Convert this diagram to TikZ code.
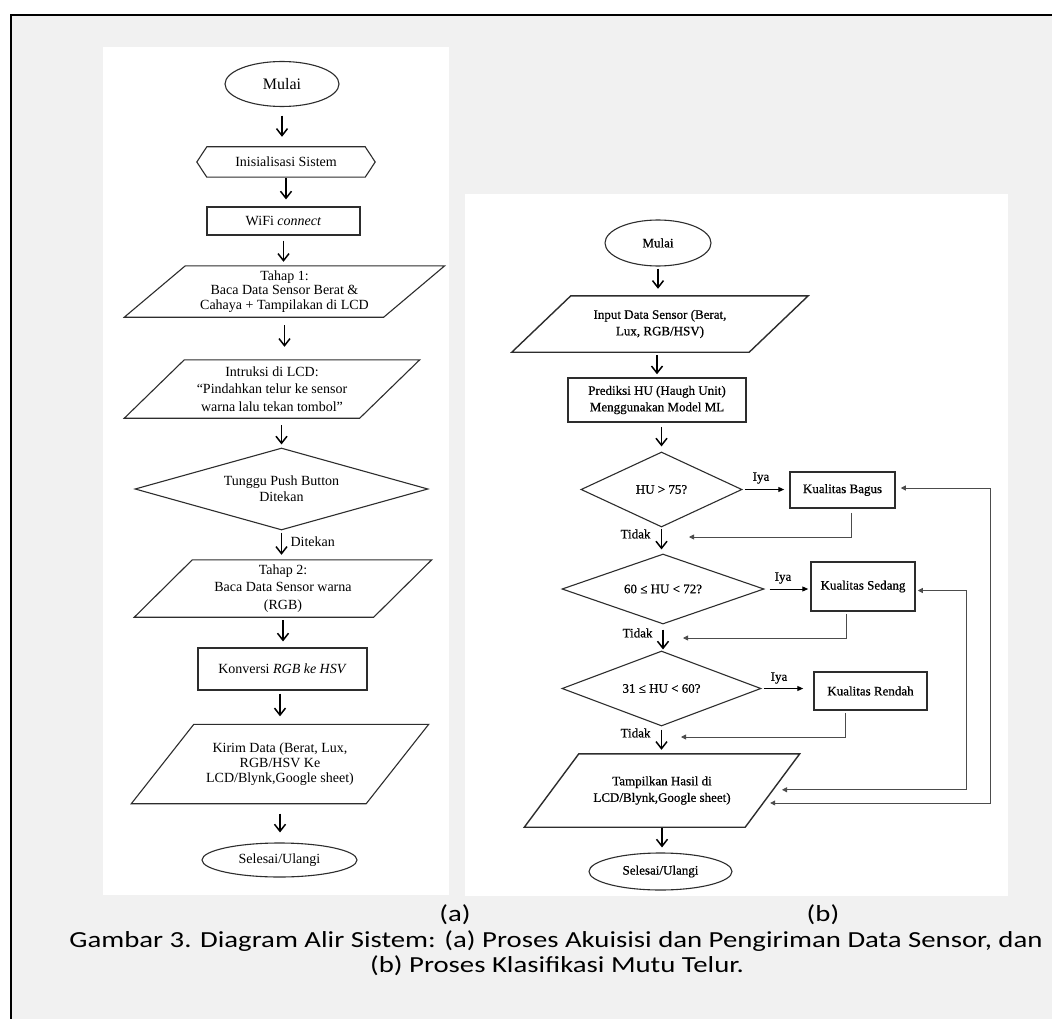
\documentclass[tikz,border=0pt]{standalone}
\usepackage{fontspec}
\usepackage{graphicx}
\setmainfont{Liberation Serif}
\newfontfamily\capfont{Carlito}
\newfontfamily\bfnt[FakeBold=0.6]{Liberation Serif}
\usetikzlibrary{shapes.geometric,arrows.meta,calc}
\definecolor{bggray}{RGB}{241,241,241}
\definecolor{ink}{RGB}{45,45,45}
% parallelogram outline around a ghost node: #2 node name, #3 half slant
\newcommand\paraDraw[3][]{%
  \coordinate (#2-ne) at ($(#2.north east)+(#3,0)$);
  \coordinate (#2-nw) at ($(#2.north west)+(#3,0)$);
  \coordinate (#2-se) at ($(#2.south east)+(-#3,0)$);
  \coordinate (#2-sw) at ($(#2.south west)+(-#3,0)$);
  \draw[#1] (#2-nw) -- (#2-ne) -- (#2-se) -- (#2-sw) -- cycle;}
\newcommand\capwide[1]{\scalebox{1.25}[1]{#1}}
\begin{document}
\begin{tikzpicture}[x=1pt,y=-1pt,
  shpa/.style={draw=ink, line width=1.1pt},
  shpb/.style={draw=ink, line width=1.4pt},
  ghost/.style={rectangle, draw=none, inner sep=0pt, align=center},
  ell/.style={ellipse, draw=ink, line width=1.1pt, fill=white, inner sep=0pt},
  boxa/.style={rectangle, draw=ink, line width=1.1pt, fill=white, inner sep=0pt, align=center},
  boxb/.style={rectangle, draw=ink, line width=1.5pt, fill=white, inner sep=0pt, align=center},
  dia/.style={diamond, draw=ink, line width=1.1pt, fill=white, inner sep=0pt, align=center},
  fa/.style={font=\fontsize{14}{17.5}\selectfont},
  fsm/.style={font=\fontsize{14}{14.8}\selectfont},
  fbb/.style={font=\bfnt\fontsize{13}{16.5}\selectfont},
  arr/.style={line width=1.5pt, draw=black, -{Straight Barb[length=7pt,width=11pt]}},
  iya/.style={line width=1pt, draw=black, -{Triangle[length=6pt,width=5pt]}},
  ret/.style={line width=0.8pt, draw=black!70, -{Triangle[length=5pt,width=5pt]}},
  fbboth/.style={line width=0.8pt, draw=black!70, {Triangle[length=5pt,width=5pt]}-{Triangle[length=5pt,width=5pt]}},
  captxt/.style={font=\capfont\fontsize{23}{25}\selectfont, inner sep=0pt}
]
\useasboundingbox (0,0) rectangle (1052,1019);
% background and panels
\fill[white] (0,0) rectangle (1052,1019);
\fill[bggray] (11,15) rectangle (1052,1019);
\draw[line width=2.4pt] (11,1019) -- (11,15) -- (1052,15);
\fill[white] (103,47) rectangle (449,895);
\fill[white] (465,194) rectangle (1008,896);

% ---------------- panel (a) ----------------
\node[ell, minimum width=114pt, minimum height=45pt, font=\fontsize{16}{18}\selectfont] (mulaiA) at (282,84) {Mulai};
\node[ghost, fa, minimum width=158pt, minimum height=30pt] (initA) at (286,162) {Inisialisasi Sistem};
\draw[shpa] (initA.north west) -- (initA.north east) -- ($(initA.east)+(10,0)$) -- (initA.south east) -- (initA.south west) -- ($(initA.west)+(-10,0)$) -- cycle;
\node[boxa, fa, minimum width=153pt, minimum height=28pt] (wifiA) at (283.5,221) {WiFi \textit{connect}};
\node[ghost, fsm, minimum width=259pt, minimum height=51pt] (tahap1) at (284.5,291.5) {Tahap 1:\\Baca Data Sensor Berat \&\\Cahaya + Tampilakan di LCD};
\paraDraw[shpa]{tahap1}{30.5}
\node[ghost, fa, minimum width=235pt, minimum height=58pt] (intruksi) at (272,389) {Intruksi di LCD:\\“Pindahkan telur ke sensor\\warna lalu tekan tombol”};
\paraDraw[shpa]{intruksi}{30}
\node[dia, font=\fontsize{14}{16}\selectfont, aspect=3.57, minimum width=293pt, minimum height=82pt] (tunggu) at (281.5,489) {Tunggu Push Button\\Ditekan};
\node[ghost, fa, minimum width=239pt, minimum height=57pt] (tahap2) at (283,588.5) {Tahap 2:\\Baca Data Sensor warna\\(RGB)};
\paraDraw[shpa]{tahap2}{29}
\node[boxa, fa, minimum width=169pt, minimum height=42pt] (konversi) at (282.5,669) {Konversi \textit{RGB ke HSV}};
\node[ghost, fsm, minimum width=234.5pt, minimum height=79pt] (kirim) at (280,764) {Kirim Data (Berat, Lux,\\RGB/HSV Ke\\LCD/Blynk,Google sheet)};
\paraDraw[shpa]{kirim}{31.25}
\node[ell, fa, minimum width=155pt, minimum height=34pt] (selesaiA) at (279.5,860) {Selesai/Ulangi};

\draw[arr, shorten <=8.5pt, shorten >=10pt] (mulaiA.south) -- (mulaiA.south |- initA.north);
\draw[arr, shorten <=1pt, shorten >=7pt] (initA.south) -- (initA.south |- wifiA.north);
\draw[arr, shorten <=5pt, shorten >=4pt] (wifiA.south) -- (wifiA.south |- tahap1.north);
\draw[arr, shorten <=8pt, shorten >=13pt] (tahap1.south) -- (tahap1.south |- intruksi.north);
\draw[arr, shorten <=7pt, shorten >=3pt] (tunggu.north |- intruksi.south) -- (tunggu.north);
\draw[arr, shorten <=2pt, shorten >=5pt] (tunggu.south) -- (tunggu.south |- tahap2.north);
\node[anchor=west, fa] (ditekan) at (287,542) {Ditekan};
\draw[arr, shorten <=3pt, shorten >=6pt] (tahap2.south) -- (tahap2.south |- konversi.north);
\draw[arr, shorten <=3pt, shorten >=8pt] (kirim.north |- konversi.south) -- (kirim.north);
\draw[arr, shorten <=10pt, shorten >=10pt] (kirim.south) -- (kirim.south |- selesaiA.north);

% ---------------- panel (b) ----------------
\node[ell, fbb, minimum width=106pt, minimum height=46pt] (mulaiB) at (658,243) {Mulai};
\node[ghost, fbb, minimum width=237pt, minimum height=56pt] (input) at (660,324) {Input Data Sensor (Berat,\\Lux, RGB/HSV)};
\paraDraw[shpb]{input}{29.5}
\node[boxb, fbb, minimum width=178pt, minimum height=44pt] (prediksi) at (657,400) {Prediksi HU (Haugh Unit)\\Menggunakan Model ML};
\node[dia, fbb, aspect=2.15, minimum width=161pt, minimum height=75pt] (d1) at (661.5,489.5) {HU > 75?};
\node[dia, fbb, aspect=2.9, minimum width=202pt, minimum height=70pt] (d2) at (663,589) {60 ≤ HU < 72?};
\node[dia, fbb, aspect=2.65, minimum width=199pt, minimum height=75pt] (d3) at (661.5,688.5) {31 ≤ HU < 60?};
\node[boxb, fbb, minimum width=105pt, minimum height=36pt] (bagus) at (842.5,490) {Kualitas Bagus};
\node[boxb, fbb, minimum width=104pt, minimum height=49pt] (sedang) at (863,586.5) {Kualitas Sedang};
\node[boxb, fbb, minimum width=113pt, minimum height=38pt] (rendah) at (870.5,691) {Kualitas Rendah};
\node[ghost, fbb, minimum width=220.5pt, minimum height=73pt] (tampil) at (662,790.5) {Tampilkan Hasil di\\LCD/Blynk,Google sheet)};
\paraDraw[shpb]{tampil}{27.25}
\node[ell, fbb, minimum width=143pt, minimum height=37pt] (selesaiB) at (660.5,871.5) {Selesai/Ulangi};

\draw[arr, shorten <=2pt, shorten >=7pt] (mulaiB.south) -- (mulaiB.south |- input.north);
\draw[arr, shorten <=3pt, shorten >=3pt] (prediksi.north |- input.south) -- (prediksi.north);
\draw[arr, shorten <=4pt, shorten >=5pt] (d1.north |- prediksi.south) -- (d1.north);
\draw[arr, shorten <=1pt, shorten >=4pt] (d1.south) -- (d1.south |- d2.north);
\draw[arr, shorten <=5pt, shorten >=1pt] (d2.south) -- (d2.south |- d3.north);
\draw[arr, shorten <=3pt, shorten >=4pt] (d3.south) -- (d3.south |- tampil.north);
\draw[arr, shorten <=1pt, shorten >=5pt] (tampil.south) -- (tampil.south |- selesaiB.north);

\node[fbb, anchor=east] (tidak1) at (654,534) {Tidak};
\node[fbb, anchor=east] (tidak2) at (656,633) {Tidak};
\node[fbb, anchor=east] (tidak3) at (654,733) {Tidak};

\draw[iya, shorten <=2pt, shorten >=5pt] (d1.east) -- (d1.east -| bagus.west);
\node[fbb] (iya1) at (761,478) {Iya};
\draw[iya, shorten <=5pt, shorten >=2pt] (d2.east) -- (d2.east -| sedang.west);
\node[fbb] (iya2) at (783,578) {Iya};
\draw[iya, shorten <=2pt, shorten >=10pt] (d3.east) -- (d3.east -| rendah.west);
\node[fbb] (iya3) at (779,678) {Iya};

% returns toward the main line
\coordinate (r1) at (689,537);
\coordinate (r2) at (683,638);
\coordinate (r3) at (681,737);
\draw[ret] ($(bagus.south)+(8.5,4)$) |- (r1);
\draw[ret] ($(sedang.south)+(-17,2)$) |- (r2);
\draw[ret] ($(rendah.south)+(-25.5,2)$) |- (r3);

% feedback loops into the output
\coordinate (fbO) at (990,0);
\coordinate (fbI) at (966,0);
\coordinate (tf1) at ($(tampil-ne)!0.49!(tampil-se)$);
\coordinate (tf2) at ($(tampil-ne)!0.67!(tampil-se)$);
\coordinate (sedE) at ($(sedang.east)+(0,4)$);
\coordinate (bagE) at ($(bagus.east)+(0,-2)$);
\draw[fbboth, shorten <=5pt, shorten >=7pt] (bagE) -- (bagE -| fbO) -- (fbO |- tf2) -- (tf2);
\draw[fbboth, shorten <=2pt, shorten >=9pt] (sedE) -- (sedE -| fbI) -- (fbI |- tf1) -- (tf1);

% ---------------- captions ----------------
\node[captxt] (labA) at (455,915) {\capwide{(a)}};
\node[captxt] (labB) at (823,915) {\capwide{(b)}};
\node[captxt] (cap1) at (556,941) {\capwide{Gambar 3. Diagram Alir Sistem: (a) Proses Akuisisi dan Pengiriman Data Sensor, dan}};
\node[captxt] (cap2) at (557,966) {\capwide{(b) Proses Klasifikasi Mutu Telur.}};
\end{tikzpicture}
\end{document}
